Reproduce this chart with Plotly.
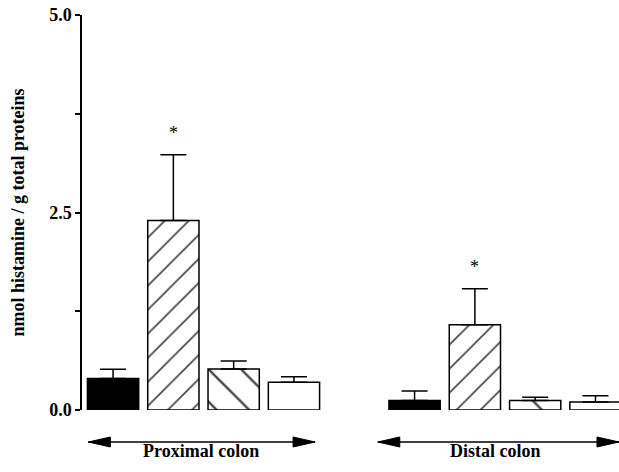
import plotly.graph_objects as go

# Mean histamine content and SEM, four treatment groups per colon region
regions = ["Proximal colon", "Distal colon"]
proximal_mean = [0.40, 2.40, 0.52, 0.35]
proximal_sem = [0.115, 0.83, 0.10, 0.07]
distal_mean = [0.12, 1.08, 0.12, 0.10]
distal_sem = [0.12, 0.455, 0.04, 0.08]
significant_proximal = [False, True, False, False]
significant_distal = [False, True, False, False]

tick_vals = [0.0, 2.5, 5.0]
tick_text = ["0.0", "2.5", "5.0"]
minor_tick_vals = [1.25, 3.75]

# bar slots: groups at 0..3 and 5..8
prox_x = [0, 1, 2, 3]
dist_x = [5, 6, 7, 8]

FONT = "Liberation Serif"
fills = ["black", "white", "white", "white"]
patterns = ["", "/", "\\", ""]
pattern_sizes = [17, 17, 23, 17]

fig = go.Figure()
for xs, means, sems in [(prox_x, proximal_mean, proximal_sem),
                        (dist_x, distal_mean, distal_sem)]:
    fig.add_trace(go.Bar(
        x=xs, y=means, width=0.85,
        marker=dict(
            color=fills,
            line=dict(color="black", width=1.5),
            pattern=dict(shape=patterns, size=pattern_sizes, solidity=0.1,
                         fgcolor="black", fgopacity=1, bgcolor="white",
                         fillmode="overlay"),
        ),
        error_y=dict(type="data", array=sems, arrayminus=[0] * len(sems),
                     symmetric=False, color="black", thickness=1.5, width=13),
        showlegend=False, hoverinfo="skip",
    ))

# significance asterisks above the error bars
for xs, means, sems, sig in [(prox_x, proximal_mean, proximal_sem, significant_proximal),
                             (dist_x, distal_mean, distal_sem, significant_distal)]:
    for x, m, s, flag in zip(xs, means, sems, sig):
        if flag:
            fig.add_annotation(x=x, y=m + s, text="*", showarrow=False,
                               yshift=22, font=dict(family=FONT, size=18, color="black"))

# double-headed arrows under each region with its label
ARROW_Y = -0.081
arrow_spans = [(-0.41, 3.35), (4.39, 8.39)]
label_x = [1.45, 6.35]
for (x0, x1), name, lx in zip(arrow_spans, regions, label_x):
    fig.add_shape(type="line", xref="x", yref="paper", x0=x0, x1=x1,
                  y0=ARROW_Y, y1=ARROW_Y, line=dict(color="black", width=1.5))
    for xa, path in [(x0, "M0,0 L22,5 L22,-5 Z"), (x1, "M0,0 L-22,5 L-22,-5 Z")]:
        fig.add_shape(type="path", xref="x", yref="paper",
                      xsizemode="pixel", ysizemode="pixel",
                      xanchor=xa, yanchor=ARROW_Y, path=path,
                      fillcolor="black", line=dict(color="black", width=1))
    fig.add_annotation(x=lx, y=-0.134, xref="x", yref="paper", text=name,
                       showarrow=False,
                       font=dict(family=FONT, size=18, color="black", weight="bold"))

fig.update_layout(
    width=619, height=472,
    margin=dict(l=82, r=0, t=15, b=62),
    paper_bgcolor="white", plot_bgcolor="white",
    barmode="overlay",
    xaxis=dict(range=[-0.515, 8.39], visible=False),
    yaxis=dict(
        range=[0, 5], showgrid=False, zeroline=False,
        showline=True, linecolor="black", linewidth=1.5,
        ticks="outside", ticklen=5, tickwidth=1.5, tickcolor="black",
        tickvals=tick_vals, ticktext=tick_text,
        tickfont=dict(family=FONT, size=18, color="black", weight="bold"),
        minor=dict(tickvals=minor_tick_vals, ticks="outside", ticklen=5,
                   tickwidth=1.5, tickcolor="black", showgrid=False),
        title=dict(text="nmol histamine / g total proteins", standoff=20,
                   font=dict(family=FONT, size=18, color="black", weight="bold")),
    ),
)

fig.write_html("out.html")
